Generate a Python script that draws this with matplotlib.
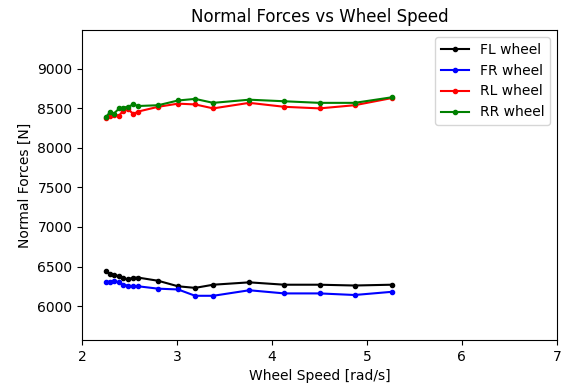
import numpy as np
import matplotlib
matplotlib.use("Agg")
import matplotlib.pyplot as plt

# wheel speed samples [rad/s]
speed = [2.25, 2.29, 2.33, 2.39, 2.43, 2.48, 2.54, 2.59, 2.80, 3.01, 3.19, 3.38, 3.76, 4.13, 4.50, 4.87, 5.26]

# normal forces [N] per wheel
fl = [6440, 6410, 6390, 6380, 6350, 6340, 6360, 6360, 6320, 6250, 6230, 6270, 6300, 6270, 6270, 6260, 6270]
fr = [6300, 6310, 6320, 6300, 6270, 6260, 6250, 6250, 6220, 6210, 6130, 6130, 6200, 6160, 6160, 6140, 6180]
rl = [8380, 8410, 8420, 8410, 8470, 8490, 8430, 8460, 8520, 8560, 8550, 8500, 8570, 8520, 8500, 8540, 8630]
rr = [8390, 8450, 8430, 8500, 8510, 8520, 8550, 8530, 8540, 8600, 8620, 8570, 8610, 8590, 8570, 8570, 8640]

labels = ["FL wheel", "FR wheel", "RL wheel", "RR wheel"]
colors = ["k", "b", "r", "g"]

fig = plt.figure(figsize=(5.63, 3.86), dpi=100)
ax = fig.add_axes([0.146, 0.119, 0.843, 0.803])

for y, lab, c in zip([fl, fr, rl, rr], labels, colors):
    ax.plot(speed, y, color=c, marker=".", label=lab)

ax.set_xlim(2, 7)
ax.set_ylim(5570, 9490)
ax.set_yticks([6000, 6500, 7000, 7500, 8000, 8500, 9000])
ax.set_title("Normal Forces vs Wheel Speed")
ax.set_xlabel("Wheel Speed [rad/s]")
ax.set_ylabel("Normal Forces [N]")
ax.legend(loc="upper right")

fig.savefig("out.png", dpi=100)
